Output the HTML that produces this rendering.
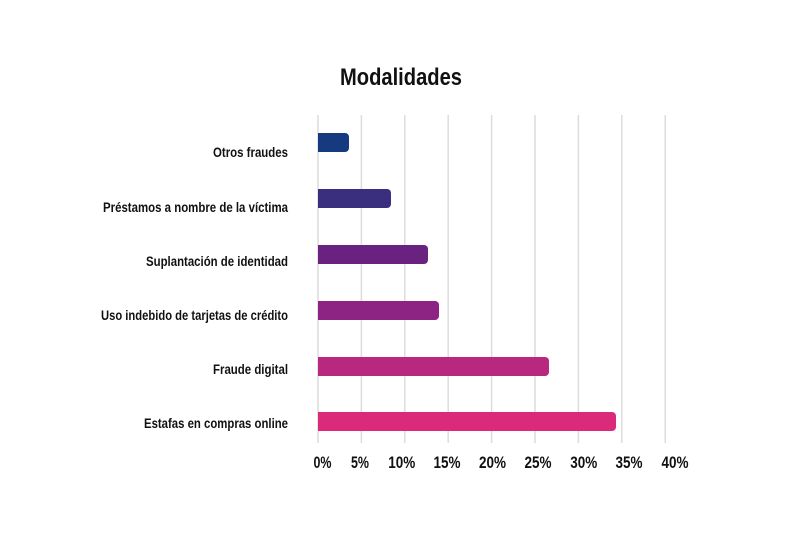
<!DOCTYPE html>
<html><head><meta charset="utf-8"><style>
html,body{margin:0;padding:0;background:#fff;}
svg{display:block;}
text{font-family:"Liberation Sans",sans-serif;font-weight:bold;fill:#111;}
</style></head><body>
<svg width="800" height="533" viewBox="0 0 800 533" xmlns="http://www.w3.org/2000/svg">
<rect width="800" height="533" fill="#fff"/>
<text x="401" y="85" font-size="24" text-anchor="middle" textLength="122" lengthAdjust="spacingAndGlyphs">Modalidades</text>
<g stroke="#dcdcdc" stroke-width="1.5">
<line x1="318" y1="115" x2="318" y2="443"/>
<line x1="361.4" y1="115" x2="361.4" y2="443"/>
<line x1="404.8" y1="115" x2="404.8" y2="443"/>
<line x1="448.2" y1="115" x2="448.2" y2="443"/>
<line x1="491.6" y1="115" x2="491.6" y2="443"/>
<line x1="535" y1="115" x2="535" y2="443"/>
<line x1="578.4" y1="115" x2="578.4" y2="443"/>
<line x1="621.8" y1="115" x2="621.8" y2="443"/>
<line x1="665.2" y1="115" x2="665.2" y2="443"/>
</g>
<g>
<path d="M318 133 H345 a4 4 0 0 1 4 4 V148 a4 4 0 0 1 -4 4 H318Z" fill="#153a80"/>
<path d="M318 189 H387 a4 4 0 0 1 4 4 V204 a4 4 0 0 1 -4 4 H318Z" fill="#3a2e7e"/>
<path d="M318 245 H424 a4 4 0 0 1 4 4 V260 a4 4 0 0 1 -4 4 H318Z" fill="#6a2281"/>
<path d="M318 301 H435 a4 4 0 0 1 4 4 V316 a4 4 0 0 1 -4 4 H318Z" fill="#8d2484"/>
<path d="M318 357 H545 a4 4 0 0 1 4 4 V372 a4 4 0 0 1 -4 4 H318Z" fill="#b7287e"/>
<path d="M318 412 H612 a4 4 0 0 1 4 4 V427 a4 4 0 0 1 -4 4 H318Z" fill="#dc2a7b"/>
</g>
<g font-size="13.5" text-anchor="end">
<text x="288" y="157" textLength="75" lengthAdjust="spacingAndGlyphs">Otros fraudes</text>
<text x="288" y="212" textLength="185" lengthAdjust="spacingAndGlyphs">Préstamos a nombre de la víctima</text>
<text x="288" y="266" textLength="142" lengthAdjust="spacingAndGlyphs">Suplantación de identidad</text>
<text x="288" y="320" textLength="187" lengthAdjust="spacingAndGlyphs">Uso indebido de tarjetas de crédito</text>
<text x="288" y="374" textLength="75" lengthAdjust="spacingAndGlyphs">Fraude digital</text>
<text x="288" y="428" textLength="144" lengthAdjust="spacingAndGlyphs">Estafas en compras online</text>
</g>
<g font-size="17" text-anchor="middle">
<text x="322.5" y="468" textLength="18" lengthAdjust="spacingAndGlyphs">0%</text>
<text x="360" y="468" textLength="18" lengthAdjust="spacingAndGlyphs">5%</text>
<text x="401.7" y="468" textLength="27" lengthAdjust="spacingAndGlyphs">10%</text>
<text x="447" y="468" textLength="27" lengthAdjust="spacingAndGlyphs">15%</text>
<text x="492.5" y="468" textLength="27" lengthAdjust="spacingAndGlyphs">20%</text>
<text x="538" y="468" textLength="27" lengthAdjust="spacingAndGlyphs">25%</text>
<text x="583.7" y="468" textLength="27" lengthAdjust="spacingAndGlyphs">30%</text>
<text x="629" y="468" textLength="27" lengthAdjust="spacingAndGlyphs">35%</text>
<text x="675" y="468" textLength="27" lengthAdjust="spacingAndGlyphs">40%</text>
</g>
</svg>
</body></html>
